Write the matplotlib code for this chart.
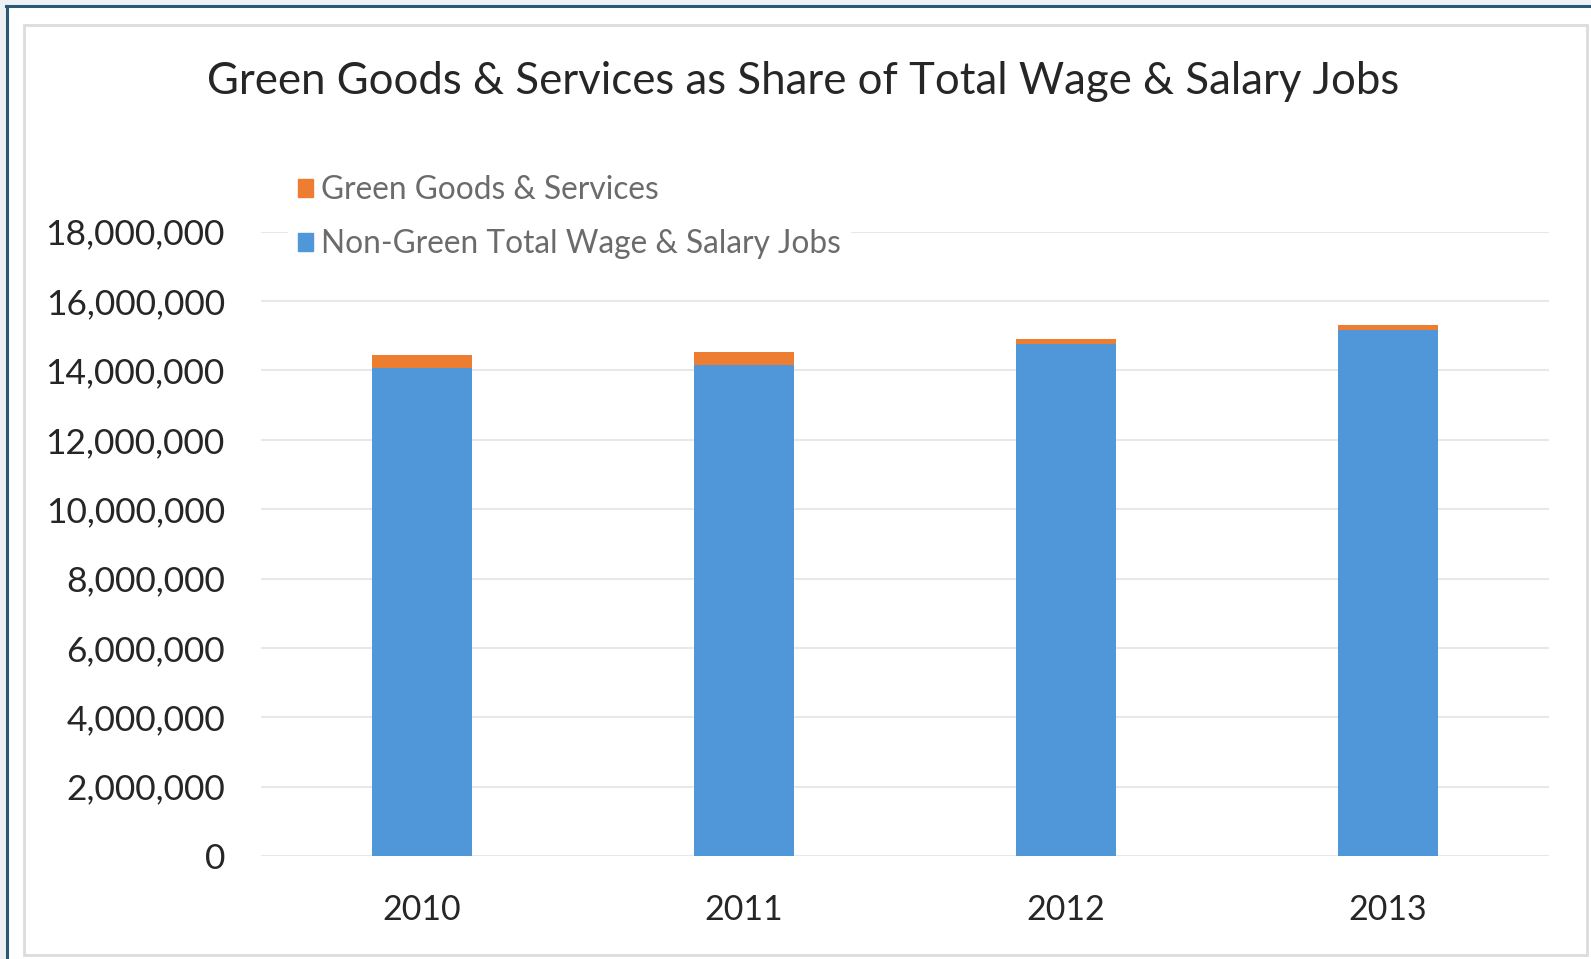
import matplotlib.pyplot as plt
from matplotlib.lines import Line2D
from matplotlib.patches import Patch
from matplotlib.ticker import FuncFormatter

# Jobs by year (in millions), stacked
years = ['2010', '2011', '2012', '2013']
non_green_jobs = [14.06, 14.17, 14.76, 15.16]
green_jobs = [0.38, 0.37, 0.16, 0.15]

y_ticks = [0, 2, 4, 6, 8, 10, 12, 14, 16, 18]

BLUE = '#5097DA'
ORANGE = '#ED7D31'
TEXT = '#262626'

plt.rcParams['font.family'] = ['Lato', 'DejaVu Sans']

fig = plt.figure(figsize=(15.91, 9.59), dpi=100)
fig.patch.set_facecolor('white')

# outer frame: gray margin with dark blue rule on top and left
W, H = 1591, 959
fig.add_artist(plt.Rectangle((0, 1 - 5 / H), 1, 5 / H, transform=fig.transFigure,
                             color='#eef1f3', lw=0))
fig.add_artist(plt.Rectangle((0, 0), 6 / W, 1, transform=fig.transFigure,
                             color='#eef1f3', lw=0))
fig.add_artist(Line2D([6 / W, 1], [1 - 6 / H, 1 - 6 / H], transform=fig.transFigure,
                      color='#2c5878', lw=2.2))
fig.add_artist(Line2D([7 / W, 7 / W], [0, 1 - 6 / H], transform=fig.transFigure,
                      color='#2c5878', lw=2.2))
# inner chart border (light gray)
fig.add_artist(plt.Rectangle((24 / W, 4 / H), 1563 / W, 930 / H, transform=fig.transFigure,
                             fill=False, ec='#dcdcdc', lw=2))

ax = fig.add_axes([261 / W, 1 - 856 / H, (1549 - 261) / W, (856 - 231.7) / H])

x = range(len(years))
ax.bar(x, non_green_jobs, width=0.31, color=BLUE, zorder=3)
ax.bar(x, green_jobs, width=0.31, bottom=non_green_jobs, color=ORANGE, zorder=3)

ax.set_xlim(-0.5, 3.5)
ax.set_ylim(0, 18)
ax.set_yticks(y_ticks)
ax.yaxis.set_major_formatter(FuncFormatter(lambda v, p: '0' if v == 0 else f'{int(v * 1e6):,}'))
ax.set_xticks(list(x))
ax.set_xticklabels(years)

ax.tick_params(axis='both', length=0, labelcolor=TEXT)
ax.tick_params(axis='y', pad=26, labelsize=25.5)
ax.tick_params(axis='x', pad=27, labelsize=24.5)

for s in ax.spines.values():
    s.set_visible(False)
ax.yaxis.grid(True, color='#e8e8e8', lw=1.5, zorder=0)
ax.set_axisbelow(True)

fig.text(0.505, 1 - 81 / H, 'Green Goods & Services as Share of Total Wage & Salary Jobs',
         ha='center', va='center', fontsize=31.5, color=TEXT)

handles = [Patch(color=ORANGE), Patch(color=BLUE)]
labels = ['Green Goods & Services', 'Non-Green Total Wage & Salary Jobs']
leg = ax.legend(handles, labels, loc='center left',
                bbox_to_anchor=(288 / W, 1 - 217 / H), bbox_transform=fig.transFigure,
                fontsize=22.8, frameon=True, facecolor='white', edgecolor='none',
                framealpha=1, fancybox=False, borderpad=0.3, borderaxespad=0,
                handlelength=0.5, handleheight=0.5, handletextpad=0.25,
                labelspacing=0.75)
for t in leg.get_texts():
    t.set_color('#6b6b6b')
leg.set_zorder(5)

fig.savefig('out.png', dpi=100)
